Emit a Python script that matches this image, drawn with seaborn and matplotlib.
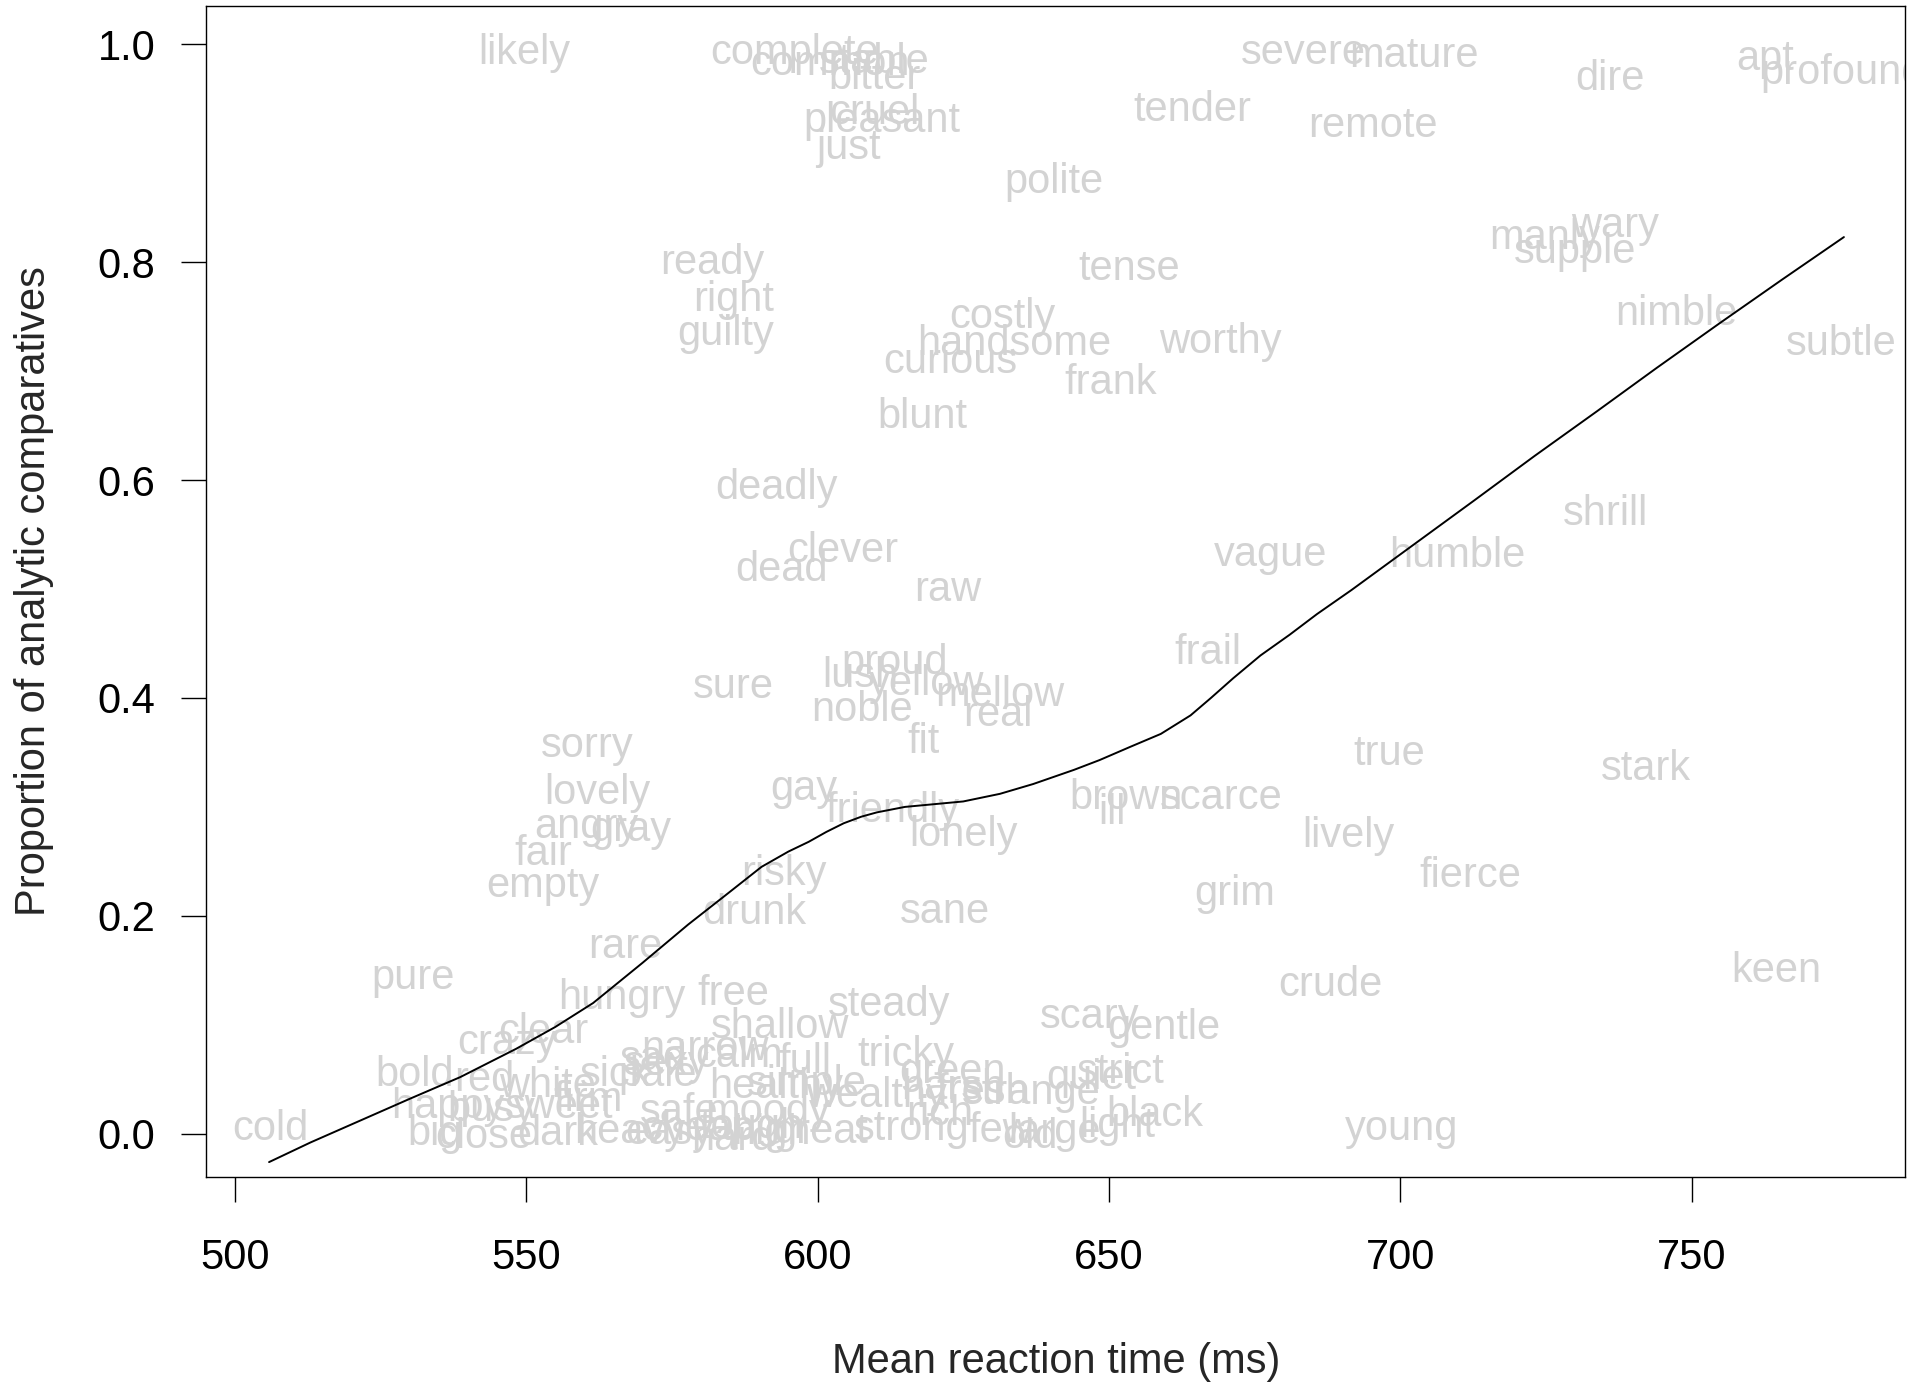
import matplotlib
matplotlib.use("Agg")
import matplotlib.pyplot as plt
import matplotlib.transforms as mtransforms
import seaborn as sns

# ---- data -------------------------------------------------------------
words = ["likely", "complete", "common", "stable", "bitter", "cruel", "pleasant", "just",
         "severe", "mature", "tender", "remote", "dire", "apt", "profound", "polite",
         "ready", "tense", "right", "costly", "handsome", "worthy", "guilty", "curious",
         "frank", "blunt", "manly", "wary", "supple", "nimble", "subtle", "deadly",
         "clever", "dead", "raw", "vague", "humble", "shrill", "frail", "proud",
         "lush", "yellow", "mellow", "sure", "noble", "real", "fit", "sorry",
         "true", "stark", "lovely", "gay", "friendly", "brown", "ill", "scarce",
         "angry", "gray", "lonely", "lively", "fair", "fierce", "risky", "empty",
         "grim", "drunk", "sane", "rare", "pure", "crude", "keen", "hungry",
         "free", "steady", "shallow", "scary", "gentle", "clear", "crazy", "narrow",
         "sad", "calm", "sexy", "full", "tricky", "sick", "pale", "healthy",
         "simple", "wealthy", "green", "harsh", "fresh", "strange", "quiet", "strict",
         "black", "light", "large", "old", "few", "rich", "strong", "great",
         "young", "cold", "bold", "red", "white", "firm", "happy", "busy",
         "sweet", "big", "close", "dark", "safe", "moody", "heavy", "easy",
         "cheap", "hard", "tough", "high"]

rt = [549.7, 596.1, 602.2, 609.8, 609.8, 609.8, 611.1, 605.2,
      683.4, 702.3, 664.4, 695.2, 736.0, 762.6, 775.9, 640.6,
      582.0, 653.4, 585.6, 631.7, 633.8, 669.2, 584.3, 622.7,
      650.3, 618.0, 724.7, 736.9, 729.9, 747.4, 775.7, 592.9,
      604.3, 593.8, 622.4, 677.7, 709.7, 735.2, 666.9, 613.2,
      607.3, 618.7, 631.3, 585.6, 607.7, 630.9, 618.2, 560.5,
      698.1, 742.2, 562.2, 597.6, 612.8, 653.0, 650.5, 669.2,
      560.3, 567.9, 625.0, 691.1, 552.9, 712.0, 594.2, 552.9,
      671.6, 589.1, 621.8, 567.0, 530.6, 688.0, 764.5, 566.4,
      585.6, 612.3, 593.6, 646.7, 659.5, 552.9, 546.8, 580.7,
      571.9, 586.6, 574.2, 597.8, 615.1, 565.3, 572.5, 592.9,
      598.2, 610.2, 623.1, 623.3, 628.3, 636.6, 646.9, 652.0,
      657.9, 651.5, 640.6, 636.4, 631.5, 621.0, 616.2, 600.5,
      700.2, 506.1, 530.8, 542.8, 553.7, 560.7, 536.5, 544.0,
      555.6, 534.4, 542.8, 555.4, 576.3, 591.5, 567.7, 574.6,
      579.5, 585.4, 588.7, 592.1]

prop = [1.000, 1.000, 0.990, 0.992, 0.977, 0.945, 0.938, 0.913,
        1.000, 0.997, 0.948, 0.933, 0.976, 0.994, 0.982, 0.882,
        0.807, 0.802, 0.773, 0.758, 0.733, 0.735, 0.742, 0.716,
        0.697, 0.666, 0.830, 0.841, 0.817, 0.760, 0.733, 0.601,
        0.543, 0.525, 0.507, 0.539, 0.538, 0.577, 0.449, 0.440,
        0.428, 0.421, 0.411, 0.418, 0.397, 0.392, 0.368, 0.364,
        0.357, 0.343, 0.321, 0.324, 0.304, 0.316, 0.302, 0.316,
        0.290, 0.287, 0.282, 0.281, 0.265, 0.245, 0.246, 0.235,
        0.228, 0.211, 0.212, 0.179, 0.151, 0.145, 0.157, 0.133,
        0.136, 0.126, 0.106, 0.115, 0.105, 0.101, 0.091, 0.086,
        0.077, 0.079, 0.072, 0.074, 0.080, 0.062, 0.062, 0.051,
        0.054, 0.043, 0.065, 0.050, 0.046, 0.045, 0.059, 0.065,
        0.025, 0.015, 0.010, 0.005, 0.011, 0.026, 0.012, 0.010,
        0.012, 0.012, 0.062, 0.057, 0.052, 0.039, 0.033, 0.030,
        0.033, 0.008, 0.005, 0.008, 0.028, 0.028, 0.010, 0.009,
        0.012, 0.003, 0.014, 0.009]

# smoothed trend line (lowess fit)
curve_rt = [505.9, 513.0, 521.5, 530.0, 538.7, 548.3, 555.0, 561.5, 570.0, 577.8,
            584.0, 590.4, 595.0, 598.5, 601.5, 604.5, 607.5, 610.2, 615.0, 621.0,
            625.0, 631.3, 637.0, 644.0, 648.4, 653.6, 658.9, 664.0, 667.5, 671.3,
            676.0, 681.0, 685.7, 691.6, 702.1, 712.6, 723.0, 733.7, 744.0, 754.8,
            765.5, 776.1]
curve_prop = [-0.026, -0.008, 0.012, 0.032, 0.052, 0.078, 0.098, 0.120, 0.157, 0.192,
              0.218, 0.245, 0.259, 0.268, 0.277, 0.285, 0.291, 0.295, 0.300, 0.303,
              0.305, 0.312, 0.321, 0.334, 0.343, 0.355, 0.367, 0.384, 0.400, 0.418,
              0.439, 0.458, 0.477, 0.499, 0.540, 0.581, 0.622, 0.663, 0.703, 0.744,
              0.784, 0.823]

x_ticks = [500, 550, 600, 650, 700, 750]
y_ticks = [0.0, 0.2, 0.4, 0.6, 0.8, 1.0]

# ---- figure -----------------------------------------------------------
sns.set_style("ticks")
plt.rcParams['font.family'] = ['Liberation Sans', 'DejaVu Sans']

FS = 30
fig = plt.figure(figsize=(19.26, 13.82), dpi=100)
ax = fig.add_axes([0.10717, 0.14848, 0.88198, 0.84711])

# R-style vertical centring of each word on its data point
off = mtransforms.ScaledTranslation(0, -14.2 / 72, fig.dpi_scale_trans)
for w, x, y in zip(words, rt, prop):
    ax.text(x, y, w, ha='center', va='baseline', fontsize=FS, color='#D3D3D3',
            transform=ax.transData + off, clip_on=True, zorder=1)

sns.lineplot(x=curve_rt, y=curve_prop, color='black', linewidth=1.4,
             sort=False, estimator=None, ax=ax, zorder=3)

ax.set_xlim(495.15, 786.6)
ax.set_ylim(-0.0395, 1.035)
ax.set_xticks(x_ticks)
ax.set_xticklabels([str(t) for t in x_ticks])
ax.set_yticks(y_ticks)
ax.set_yticklabels([f"{t:.1f}" for t in y_ticks])

for s in ax.spines.values():
    s.set_visible(True)
    s.set_color('black')
    s.set_linewidth(1.0)

ax.tick_params(axis='both', direction='out', length=17.7, width=1.0,
               labelsize=FS, colors='black')
ax.tick_params(axis='x', pad=26.5)
ax.tick_params(axis='y', pad=19)
ax.set_xlabel("")
ax.set_ylabel("")

fig.text(0.5482, 0.0142, "Mean reaction time (ms)", ha='center', va='center', fontsize=FS)
fig.text(0.0175, 0.5724, "Proportion of analytic comparatives", ha='center', va='center',
         rotation=90, fontsize=FS)

fig.savefig("out.png", dpi=100, facecolor='white')
